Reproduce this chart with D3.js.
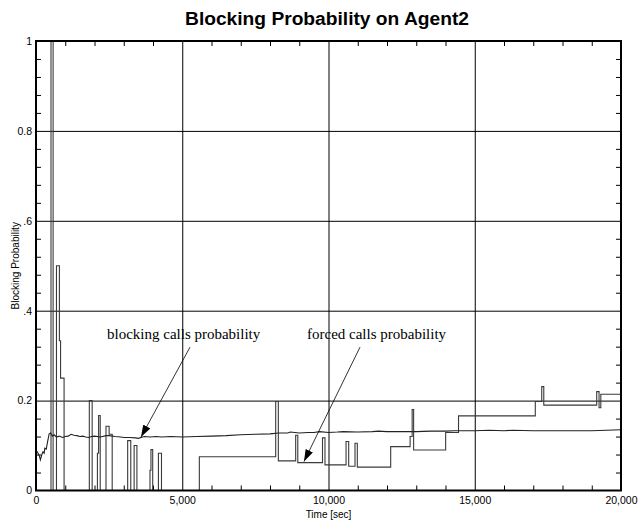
<!DOCTYPE html>
<html><head><meta charset="utf-8">
<script src="https://cdn.jsdelivr.net/npm/d3@7/dist/d3.min.js"></script>
<style>
html,body{margin:0;padding:0;background:#fff;}
svg{display:block;}
</style></head>
<body>
<script>
// ---------- data ----------
const title = "Blocking Probability on Agent2";
const xLabel = "Time [sec]";
const yLabel = "Blocking Probability";
const xTickValues = [0, 5000, 10000, 15000, 20000];
const xTickLabels = ["0", "5,000", "10,000", "15,000", "20,000"];
const yTickValues = [0, 0.2, 0.4, 0.6, 0.8, 1];
const yTickLabels = ["0", "0.2", ".4", ".6", "0.8", "1"];

// blocking calls probability (time [sec], probability)
const blockingT = [0, 60, 110, 150, 200, 240, 280, 300, 350, 400, 450, 500, 560, 620, 700, 800, 900, 1000, 1100, 1200, 1300, 1400, 1500, 1600, 1700, 1800, 1900, 2000, 2200, 2400, 2500, 2700, 2900, 3000, 3200, 3400, 3500, 3700, 3900, 4100, 4300, 4600, 5000, 5500, 6000, 6500, 7000, 7500, 8000, 8300, 8600, 8700, 9000, 9300, 9500, 9700, 10000, 10300, 10500, 11000, 11500, 11700, 12000, 12500, 13000, 13500, 14000, 14300, 15000, 15500, 16000, 16300, 17000, 17300, 18000, 18500, 19000, 19500, 20000];
const blockingV = [0.090, 0.084, 0.078, 0.068, 0.080, 0.086, 0.083, 0.094, 0.092, 0.110, 0.126, 0.128, 0.121, 0.124, 0.119, 0.121, 0.118, 0.120, 0.121, 0.125, 0.123, 0.122, 0.120, 0.121, 0.119, 0.118, 0.120, 0.121, 0.119, 0.122, 0.122, 0.120, 0.119, 0.118, 0.118, 0.117, 0.116, 0.120, 0.119, 0.120, 0.119, 0.120, 0.119, 0.120, 0.121, 0.122, 0.124, 0.125, 0.126, 0.128, 0.128, 0.130, 0.128, 0.129, 0.129, 0.131, 0.129, 0.130, 0.131, 0.130, 0.131, 0.132, 0.131, 0.131, 0.131, 0.132, 0.132, 0.133, 0.133, 0.134, 0.133, 0.134, 0.133, 0.133, 0.133, 0.133, 0.133, 0.134, 0.135];

// forced calls probability (step function: value holds from time until next time)
const forcedT = [0, 513, 585, 700, 800, 840, 960, 1823, 1920, 2100, 2140, 2195, 2393, 2500, 2605, 3134, 3240, 3355, 3450, 3897, 3930, 3990, 4185, 4290, 5584, 8195, 8285, 8878, 8950, 9795, 9880, 10600, 10690, 10906, 10985, 12126, 12790, 12860, 12910, 14005, 14445, 17070, 17290, 17360, 19170, 19250, 19310, 20000];
const forcedV = [0, 1, 0, 0.5, 0.333, 0.25, 0, 0.2, 0, 0.083, 0.167, 0, 0.143, 0.125, 0, 0.111, 0, 0.1, 0, 0.045, 0.091, 0, 0.083, 0, 0.075, 0.198, 0.066, 0.123, 0.062, 0.117, 0.057, 0.109, 0.054, 0.105, 0.052, 0.0975, 0.12, 0.18, 0.09, 0.129, 0.166, 0.198, 0.231, 0.19, 0.22, 0.184, 0.214, 0.214];

// annotations: label, text anchor (t, v), arrow start (t, v), arrow tip (t, v)
const annoLabels = ["blocking calls probability", "forced calls probability"];
const annoTextT = [2427, 9265];
const annoTextV = [0.337, 0.337];
const annoFromT = [5265, 11077];
const annoFromV = [0.319, 0.319];
const annoToT = [3590, 9162];
const annoToV = [0.119, 0.0645];

// ---------- layout ----------
const W = 644, H = 523;
const m = {left: 36, right: 23, top: 41, bottom: 32.5};
const x0 = m.left, x1 = W - m.right, y0 = H - m.bottom, y1 = m.top;

const svg = d3.select("body").append("svg").attr("width", W).attr("height", H);

const x = d3.scaleLinear().domain([0, 20000]).range([x0, x1]);
const y = d3.scaleLinear().domain([0, 1]).range([y0, y1]);

// title
svg.append("text").attr("x", 327).attr("y", 25).attr("text-anchor", "middle")
  .attr("font-family", "Liberation Sans, Arial, sans-serif").attr("font-weight", "bold")
  .attr("font-size", 19.2).attr("fill", "#000").text(title);

// grid
svg.append("g").attr("transform", `translate(${x0},0)`)
  .call(d3.axisLeft(y).tickValues([0.2, 0.4, 0.6, 0.8]).tickSize(-(x1 - x0)).tickFormat(""))
  .call(g => g.select(".domain").remove())
  .call(g => g.selectAll("line").attr("stroke", "#000").attr("stroke-width", 1));
svg.append("g").attr("transform", `translate(0,${y0})`)
  .call(d3.axisBottom(x).tickValues([5000, 10000, 15000]).tickSize(-(y0 - y1)).tickFormat(""))
  .call(g => g.select(".domain").remove())
  .call(g => g.selectAll("line").attr("stroke", "#000").attr("stroke-width", 1));

// minor ticks
const xMinor = d3.range(1000, 20000, 1000).filter(v => v % 5000 !== 0);
const yMinor = d3.range(1, 25).map(i => i * 0.04).filter(v => Math.abs(v * 5 - Math.round(v * 5)) > 1e-6);
function styleMinor(g){ g.select(".domain").remove(); g.selectAll("line").attr("stroke", "#000").attr("stroke-width", 1); }
svg.append("g").attr("transform", `translate(0,${y0})`).call(d3.axisBottom(x).tickValues(xMinor).tickSize(-5).tickFormat("")).call(styleMinor);
svg.append("g").attr("transform", `translate(0,${y1})`).call(d3.axisTop(x).tickValues(xMinor).tickSize(-5).tickFormat("")).call(styleMinor);
svg.append("g").attr("transform", `translate(${x0},0)`).call(d3.axisLeft(y).tickValues(yMinor).tickSize(-5).tickFormat("")).call(styleMinor);
svg.append("g").attr("transform", `translate(${x1},0)`).call(d3.axisRight(y).tickValues(yMinor).tickSize(-5).tickFormat("")).call(styleMinor);

// series
const forcedData = forcedT.map((t, i) => [t, forcedV[i]]);
const blockingData = blockingT.map((t, i) => [t, blockingV[i]]);

svg.append("path").datum(forcedData)
  .attr("fill", "none").attr("stroke", "#3a3a3a").attr("stroke-width", 1.1)
  .attr("d", d3.line().x(d => x(d[0])).y(d => y(d[1])).curve(d3.curveStepAfter));
svg.append("path").datum(blockingData)
  .attr("fill", "none").attr("stroke", "#222").attr("stroke-width", 1.1)
  .attr("d", d3.line().x(d => x(d[0])).y(d => y(d[1])));

// frame
svg.append("rect").attr("x", x0).attr("y", y1).attr("width", x1 - x0).attr("height", y0 - y1)
  .attr("fill", "none").attr("stroke", "#000").attr("stroke-width", 2);

// axis labels
const tickFont = "Liberation Sans, Arial, sans-serif";
const xAxis = svg.append("g").attr("transform", `translate(0,${y0})`)
  .call(d3.axisBottom(x).tickValues(xTickValues).tickSize(0).tickPadding(6)
    .tickFormat((d, i) => xTickLabels[i]));
xAxis.select(".domain").remove();
xAxis.selectAll("text").attr("font-family", tickFont).attr("font-size", 10.5).attr("fill", "#000");

const yAxis = svg.append("g").attr("transform", `translate(${x0},0)`)
  .call(d3.axisLeft(y).tickValues(yTickValues).tickSize(0).tickPadding(4)
    .tickFormat((d, i) => yTickLabels[i]));
yAxis.select(".domain").remove();
yAxis.selectAll("text").attr("font-family", tickFont).attr("font-size", 10.5).attr("fill", "#000");

svg.append("text").attr("x", (x0 + x1) / 2).attr("y", 518).attr("text-anchor", "middle")
  .attr("font-family", tickFont).attr("font-size", 10).attr("fill", "#000").text(xLabel);
svg.append("text").attr("transform", `translate(19,${(y0 + y1) / 2}) rotate(-90)`)
  .attr("text-anchor", "middle").attr("font-family", tickFont).attr("font-size", 10)
  .attr("fill", "#000").text(yLabel);

// annotations
const defs = svg.append("defs");
defs.append("marker").attr("id", "arr").attr("viewBox", "0 0 12 8").attr("refX", 12).attr("refY", 4)
  .attr("markerWidth", 12).attr("markerHeight", 8).attr("markerUnits", "userSpaceOnUse").attr("orient", "auto")
  .append("path").attr("d", "M0,0 L12,4 L0,8 Z").attr("fill", "#000");

annoLabels.forEach((lab, i) => {
  svg.append("text").attr("x", x(annoTextT[i])).attr("y", y(annoTextV[i]))
    .attr("font-family", "Liberation Serif, Times New Roman, serif").attr("font-size", 15)
    .attr("fill", "#000").text(lab);
  svg.append("line").attr("x1", x(annoFromT[i])).attr("y1", y(annoFromV[i]))
    .attr("x2", x(annoToT[i])).attr("y2", y(annoToV[i]))
    .attr("stroke", "#000").attr("stroke-width", 0.8).attr("marker-end", "url(#arr)");
});
</script>
</body></html>
